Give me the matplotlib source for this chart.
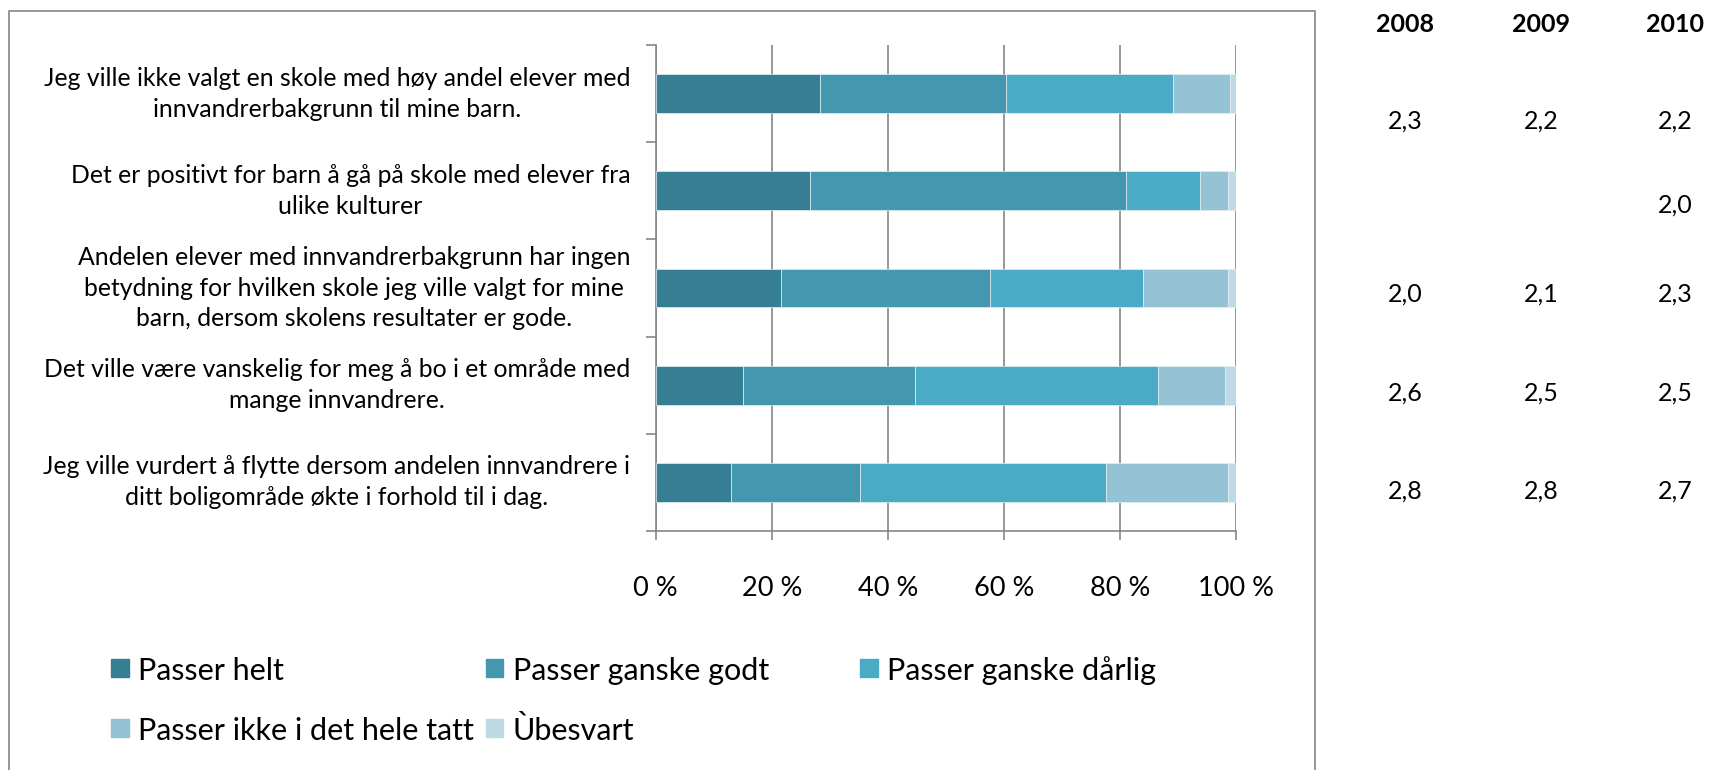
import numpy as np
import matplotlib
matplotlib.use("Agg")
import matplotlib.pyplot as plt
from matplotlib.patches import Rectangle

plt.rcParams["font.family"] = ["Lato", "DejaVu Sans"]

# Statements, top to bottom
categories = [
    "Jeg ville ikke valgt en skole med høy andel elever med\ninnvandrerbakgrunn til mine barn.",
    "Det er positivt for barn å gå på skole med elever fra\nulike kulturer",
    "Andelen elever med innvandrerbakgrunn har ingen\nbetydning for hvilken skole jeg ville valgt for mine\nbarn, dersom skolens resultater er gode.",
    "Det ville være vanskelig for meg å bo i et område med\nmange innvandrere.",
    "Jeg ville vurdert å flytte dersom andelen innvandrere i\nditt boligområde økte i forhold til i dag.",
]

# Shares in percent
passer_helt = [28.3, 26.6, 21.6, 15.1, 13.0]
passer_godt = [32.1, 54.4, 35.9, 29.5, 22.2]
passer_darlig = [28.7, 12.7, 26.4, 41.9, 42.4]
passer_ikke = [9.8, 4.8, 14.6, 11.5, 20.9]
ubesvart = [1.1, 1.5, 1.5, 2.0, 1.5]

series_names = ["Passer helt", "Passer ganske godt", "Passer ganske dårlig",
                "Passer ikke i det hele tatt", "Ùbesvart"]
colors = ["#367E93", "#4397AF", "#4BABC6", "#93C3D4", "#BDDAE5"]

# Mean scores table on the right
years = ["2008", "2009", "2010"]
mean_2008 = ["2,3", "", "2,0", "2,6", "2,8"]
mean_2009 = ["2,2", "", "2,1", "2,5", "2,8"]
mean_2010 = ["2,2", "2,0", "2,3", "2,5", "2,7"]

W, H = 1710, 770
fig = plt.figure(figsize=(W / 100, H / 100), dpi=100)
ax = fig.add_axes([655.8 / W, (H - 531) / H, 580.5 / W, 486 / H])

grid_c = "#868686"
y = np.arange(len(categories))
left = np.zeros(len(categories))
for vals, name, c in zip([passer_helt, passer_godt, passer_darlig, passer_ikke, ubesvart],
                         series_names, colors):
    ax.barh(y, vals, left=left, height=0.4, color=c, edgecolor="#e4eff3",
            linewidth=0.5, label=name, zorder=3)
    left += np.array(vals)

ax.set_xlim(0, 100)
ax.set_ylim(4.5, -0.5)
ax.set_xticks(np.arange(0, 101, 20))
ax.set_xticklabels([f"{v} %" for v in range(0, 101, 20)], fontsize=19.5)
ax.set_yticks(np.arange(-0.5, 5, 1))
ax.set_yticklabels([])
ax.tick_params(axis="x", length=6.5, width=1.2, color=grid_c, pad=26)
ax.tick_params(axis="y", length=7, width=1.2, color=grid_c)
ax.xaxis.grid(True, color=grid_c, linewidth=1.2, zorder=0)
ax.set_axisbelow(True)
for s in ["top", "right"]:
    ax.spines[s].set_visible(False)
for s in ["left", "bottom"]:
    ax.spines[s].set_color(grid_c)
    ax.spines[s].set_linewidth(1.2)

# Category labels
for i, lab in enumerate(categories):
    ax.text(-0.044, i, lab, transform=ax.get_yaxis_transform(), ha="right",
            va="center", multialignment="center", fontsize=17.8, linespacing=1.42)

# Legend, row-major in three columns
for k, (name, c) in enumerate(zip(series_names, colors)):
    col, row = k % 3, k // 3
    x0 = 111 + 374.5 * col
    top = 659 + 60 * row
    fig.add_artist(Rectangle((x0 / W, 1 - (top + 18) / H), 18 / W, 18 / H,
                             transform=fig.transFigure, color=c))
    fig.text((x0 + 27) / W, 1 - (top + 21) / H, name, ha="left", va="baseline",
             fontsize=22)

# Year table
col_x = [1405, 1541, 1675]
row_y = [120, 204, 293, 392, 490]
for yr, xc, vals in zip(years, col_x, [mean_2008, mean_2009, mean_2010]):
    fig.text(xc / W, 1 - 31.5 / H, yr, ha="center", va="baseline", fontsize=18,
             fontweight="bold")
    for v, yc in zip(vals, row_y):
        if v:
            fig.text(xc / W, 1 - (yc + 9) / H, v, ha="center", va="baseline",
                     fontsize=18)

# Chart area border
fig.add_artist(Rectangle((9 / W, -0.05), (1315 - 9) / W, 1.05 - 11 / H,
                         transform=fig.transFigure, fill=False,
                         edgecolor=grid_c, linewidth=1.2))

fig.savefig("out.png", dpi=100)
